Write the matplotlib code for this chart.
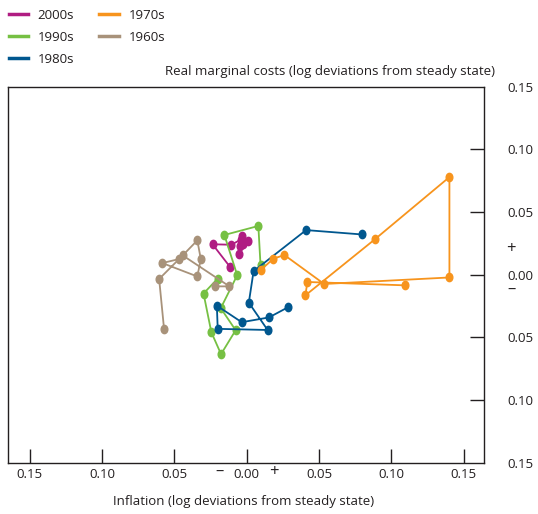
import matplotlib
matplotlib.use("Agg")
import matplotlib.pyplot as plt
from matplotlib.path import Path
from matplotlib.transforms import Affine2D
from matplotlib.lines import Line2D

plt.rcParams['font.family'] = ['Open Sans', 'DejaVu Sans']

# inflation (x) and real marginal costs (y), log deviations from steady state
x_2000s = [-0.0115, -0.0237, -0.0107, -0.0043, -0.0036, -0.0057, -0.0046, 0.0009, -0.0026]
y_2000s = [0.0061, 0.0243, 0.0239, 0.0279, 0.0307, 0.0167, 0.0227, 0.0267, 0.0247]

x_1990s = [0.0095, 0.0080, -0.0155, -0.0066, -0.0180, -0.0077, -0.0178, -0.0245, -0.0299, -0.0202]
y_1990s = [0.0076, 0.0389, 0.0317, -0.0004, -0.0267, -0.0443, -0.0634, -0.0459, -0.0150, -0.0032]

x_1980s = [0.0797, 0.0410, 0.0047, 0.0014, 0.0144, -0.0201, -0.0207, -0.0035, 0.0153, 0.0288]
y_1980s = [0.0321, 0.0356, 0.0028, -0.0223, -0.0441, -0.0432, -0.0247, -0.0379, -0.0341, -0.0258]

x_1970s = [0.0099, 0.0184, 0.0260, 0.0535, 0.1401, 0.1401, 0.0885, 0.0405, 0.0419, 0.1097]
y_1970s = [0.0040, 0.0128, 0.0157, -0.0074, -0.0022, 0.0779, 0.0282, -0.0165, -0.0058, -0.0085]

x_1960s = [-0.0217, -0.0120, -0.0443, -0.0342, -0.0318, -0.0342, -0.0584, -0.0468, -0.0606, -0.0572]
y_1960s = [-0.0093, -0.0093, 0.0154, 0.0274, 0.0125, -0.0014, 0.0093, 0.0125, -0.0034, -0.0433]

series = [
    ('2000s', x_2000s, y_2000s, '#B01C82'),
    ('1990s', x_1990s, y_1990s, '#76C043'),
    ('1980s', x_1980s, y_1980s, '#00578F'),
    ('1970s', x_1970s, y_1970s, '#F7941D'),
    ('1960s', x_1960s, y_1960s, '#A8927A'),
]

tick_vals = [-0.15, -0.10, -0.05, 0.0, 0.05, 0.10, 0.15]
tick_text = ['0.15', '0.10', '0.05', '0.00', '0.05', '0.10', '0.15']

ink = '#231F20'
fs = 9.5

fig = plt.figure(figsize=(5.38, 5.14), dpi=100)
ax = fig.add_axes([0.0154, 0.0998, 0.8842, 0.7315])

dot = Path.unit_circle().transformed(Affine2D().scale(0.8, 1.0))

for name, xs, ys, col in series:
    ax.plot(xs, ys, color=col, lw=1.3, marker=dot, ms=6, mec=col, mfc=col)

ax.set_xlim(-0.1649, 0.1640)
ax.set_ylim(-0.15, 0.15)

ax.set_xticks(tick_vals)
ax.set_xticklabels(tick_text)
ax.set_yticks(tick_vals)
ax.set_yticklabels(tick_text)
ax.tick_params(axis='x', direction='in', length=10, width=1, color=ink,
               labelsize=fs, labelcolor=ink, pad=4)
ax.tick_params(axis='y', direction='in', length=10, width=1, color=ink,
               left=False, labelleft=False, right=True, labelright=True,
               labelsize=fs, labelcolor=ink, pad=17)
# no tick marks at the top/bottom ends of the y axis
for t in (ax.yaxis.get_major_ticks()[0], ax.yaxis.get_major_ticks()[-1]):
    t.tick2line.set_visible(False)
for s in ax.spines.values():
    s.set_linewidth(1.0)
    s.set_color(ink)

# signs around zero
fig.text(220 / 538, 1 - 472 / 514, '–', ha='center', va='center', fontsize=12, color=ink)
fig.text(274 / 538, 1 - 472 / 514, '+', ha='center', va='center', fontsize=12, color=ink)
fig.text(511 / 538, 1 - 249 / 514, '+', ha='center', va='center', fontsize=12, color=ink)
fig.text(511 / 538, 1 - 290 / 514, '–', ha='center', va='center', fontsize=12, color=ink)

fig.text(495 / 538, 1 - 72 / 514, 'Real marginal costs (log deviations from steady state)',
         ha='right', va='center', fontsize=fs, color=ink)
fig.text(244 / 538, 1 - 502 / 514, 'Inflation (log deviations from steady state)',
         ha='center', va='center', fontsize=fs, color=ink)

handles = [Line2D([], [], color=col, lw=2.5) for _, _, _, col in series]
labels = [name for name, _, _, _ in series]
fig.legend(handles, labels, ncol=2, loc='upper left', bbox_to_anchor=(0.0, 1.0),
           frameon=False, fontsize=fs, handlelength=1.5, handletextpad=0.7,
           columnspacing=1.9, labelspacing=0.68, borderaxespad=0.25, labelcolor=ink)

fig.savefig('out.png', dpi=100)
